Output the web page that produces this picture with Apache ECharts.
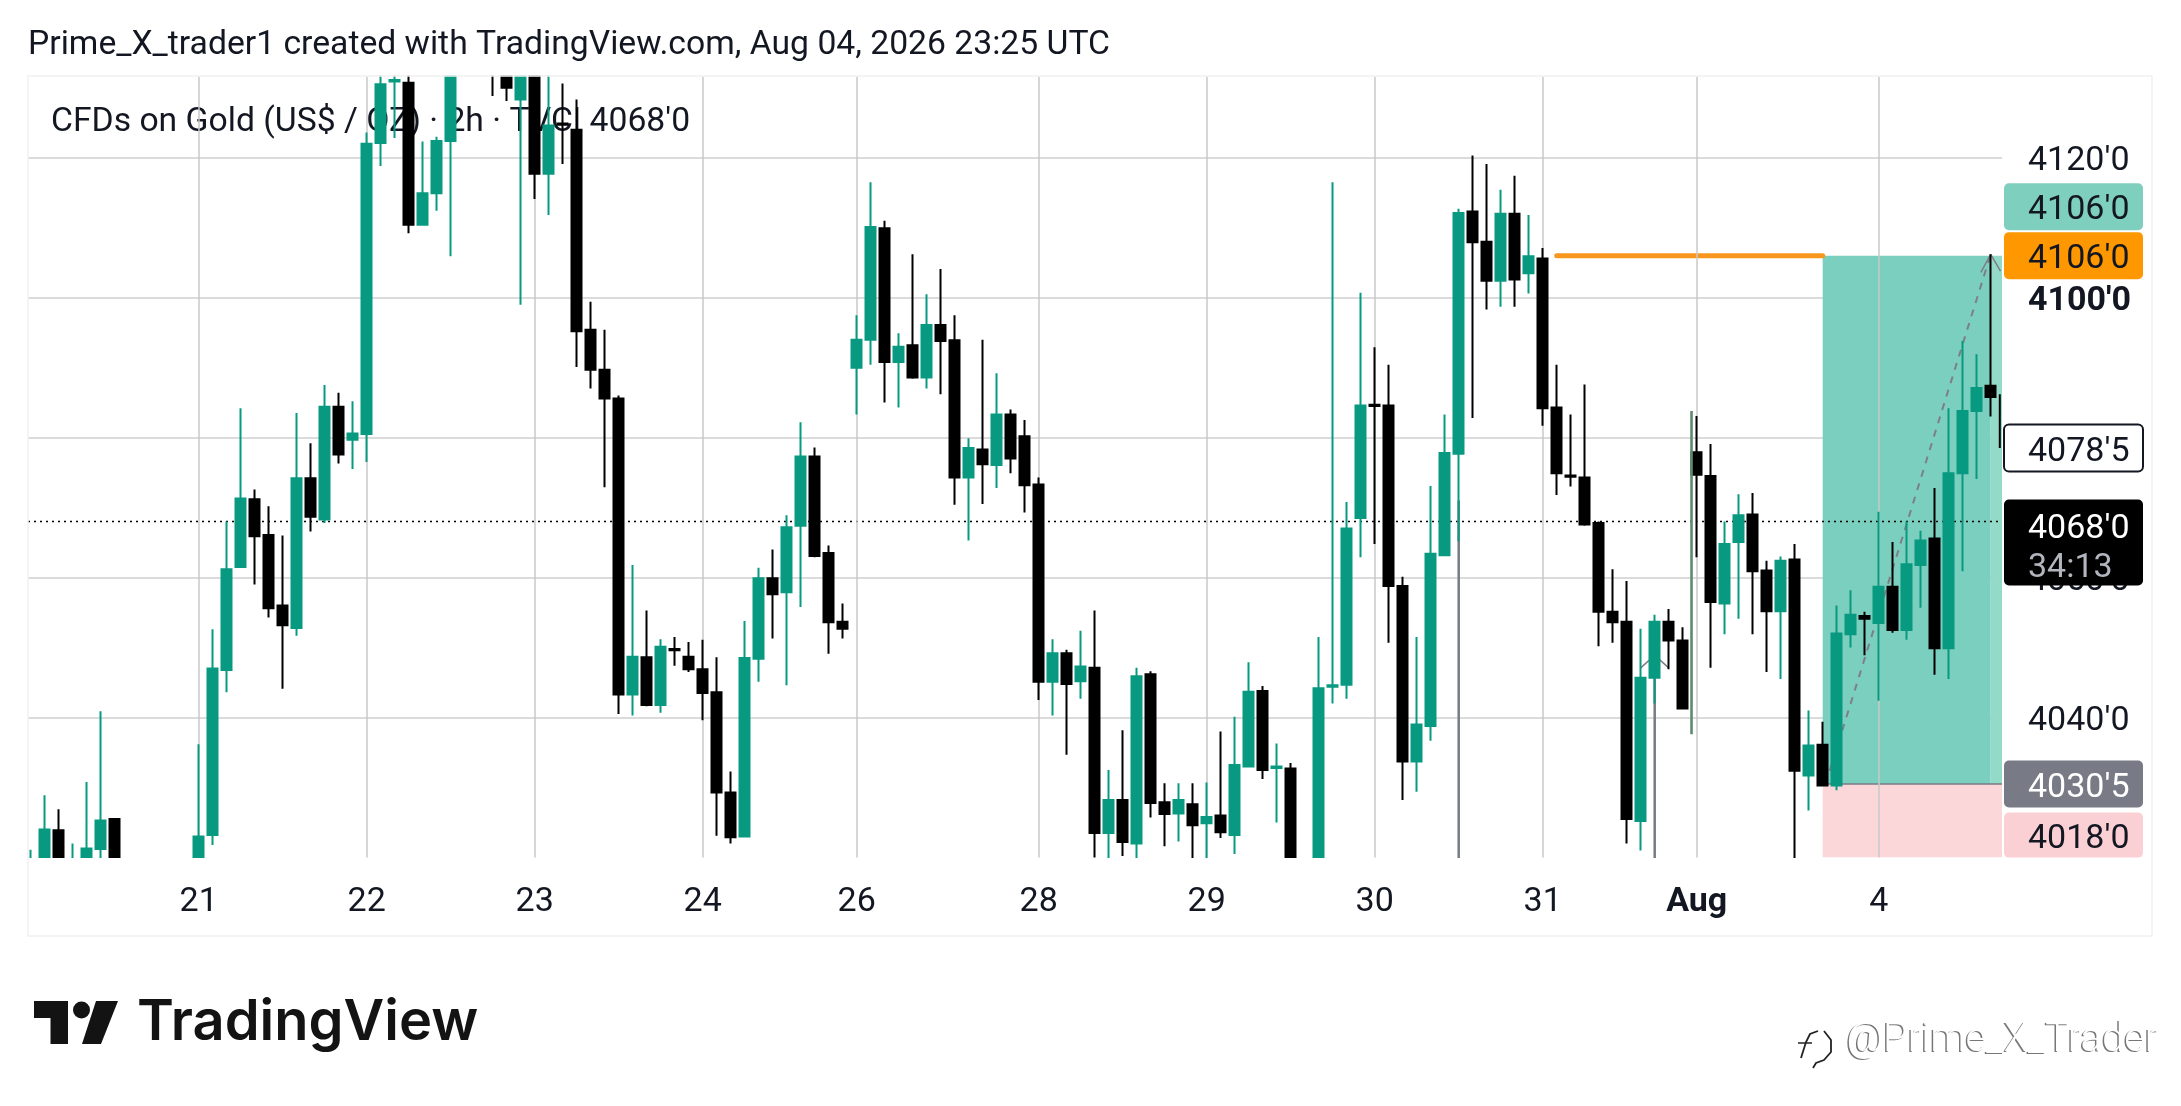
<!DOCTYPE html>
<html><head><meta charset="utf-8"><style>html,body{margin:0;padding:0;background:#fff}#c{width:2181px;height:1106px}</style>
<script src="https://cdn.jsdelivr.net/npm/echarts@6/dist/echarts.min.js"></script></head><body><div id="c"></div>
<script>
const headerText = "Prime_X_trader1 created with TradingView.com, Aug 04, 2026 23:25 UTC";
const legendText = "CFDs on Gold (US$ / OZ) · 2h · TVC| 4068'0";
const dayIndex = [12,24,36,48,59,72,84,96,108,119,132];
const dayLabels = ['21','22','23','24','26','28','29','30','31','Aug','4'];
const opens = [4015,4015,4023.9,4012,4015,4021.2,4025.5,4016,4012,4015,4011,4014,4014,4023.2,4046.8,4061.5,4071.2,4066.1,4056,4052.8,4074.2,4068.3,4084.4,4079.7,4080.5,4122.1,4130.9,4130.7,4110.4,4114.9,4122.4,4142,4137,4139,4136,4128.3,4136,4117.7,4124.9,4124,4095.4,4089.7,4085.6,4043.3,4048.6,4041.8,4049.8,4048.7,4046.9,4043.6,4029.3,4023,4048.4,4059.9,4057.9,4067.4,4077.3,4063.5,4053.7,4090,4094,4109.9,4090.8,4093.2,4088.6,4096.1,4093.9,4074.3,4078.3,4076.1,4083.3,4080.2,4073.3,4045.1,4049.2,4045.2,4047.1,4023.5,4028.2,4022,4046.2,4027.9,4026.3,4027.6,4024.9,4026,4023.2,4033,4043.8,4032.8,4032.7,4016,4012,4044.4,4044.7,4068.5,4084.7,4084.6,4058.8,4033.7,4038.8,4063.2,4077.7,4112.3,4108,4102.4,4112,4103.5,4105.6,4084.3,4074.6,4074.3,4067.8,4055.1,4053.7,4025.2,4045.7,4053.7,4051,4077.9,4074.5,4056.3,4065.1,4069,4061,4055.2,4062.6,4031.7,4036.1,4030.3,4051.9,4054.5,4053.5,4058.7,4052.5,4061.8,4065.6,4049.9,4074.9,4083.8,4087.4];
const closes = [4018,4024,4015,4017,4021.3,4025.3,4016,4012,4015,4011,4014,4010,4023,4047,4061.2,4071.3,4065.9,4055.6,4053.2,4074.2,4068.7,4084.4,4077.6,4080.6,4122,4130.5,4131.1,4110.4,4114.9,4122.4,4136,4137,4141,4135,4130,4135,4117.7,4124.6,4124.7,4095.2,4089.7,4085.6,4043.3,4048.7,4041.8,4050.1,4049.6,4046.9,4043.5,4029.3,4022.9,4048.5,4059.9,4057.6,4067.2,4077.3,4063.1,4053.6,4052.7,4094,4110.1,4090.8,4093,4088.6,4096.1,4093.8,4074.3,4078.5,4076.2,4083.3,4077,4073.2,4045.1,4049.2,4044.8,4047.3,4023.5,4028.2,4022.2,4045.9,4027.8,4026.2,4028.2,4024.6,4025.8,4023.6,4033.2,4043.7,4032.5,4033,4016,4012,4044.2,4044.6,4067,4084.6,4084.5,4058.8,4033.7,4039,4063.4,4077.8,4112.1,4107.9,4102.4,4112,4102.6,4105.9,4084.2,4074.9,4074.4,4067.6,4055.1,4053.6,4025.5,4045.7,4053.7,4051,4041.3,4074.7,4056.5,4064.8,4068.9,4060.9,4055.2,4062.4,4032.4,4036,4030.3,4052,4054.7,4054.1,4058.7,4052.5,4061.9,4065.3,4049.9,4074.9,4083.8,4087.1,4085.8];
const lows = [4012,4013,4013,4010,4013,4017,4014,4010,4010,4009,4009,4008,4012,4021.8,4043.6,4061.4,4059,4054.3,4044.1,4051.7,4066.6,4067.8,4076.3,4075.5,4076.5,4118.8,4122.8,4109.2,4110.3,4112.4,4105.9,4135,4135,4128.8,4128.1,4099,4114.1,4111.8,4119.1,4090.1,4087,4072.9,4040.5,4040.3,4041.6,4040.7,4047.4,4046.5,4039.6,4023.1,4022,4022.9,4045.1,4051.3,4044.6,4055.8,4062.9,4049.1,4051.3,4083.3,4090.4,4085,4084.3,4088.4,4087,4086.2,4070.4,4065.3,4070.5,4072.8,4074.9,4069.3,4042.5,4040.3,4034.7,4042.7,4020,4019,4020.2,4019,4025.7,4021.6,4022.3,4019,4019,4022.8,4020.5,4032.9,4031.2,4025,4014,4010,4010,4042,4042.7,4062.9,4064.8,4050.7,4028.2,4029.4,4036.7,4063.1,4065.2,4082.8,4098.3,4098.7,4098.7,4100.6,4081.7,4071.8,4073,4067.4,4050.2,4050.7,4022,4021,4042,4046.9,4041.2,4062.9,4047.1,4051.9,4054.1,4051.9,4046.5,4045.5,4019,4026.7,4030.2,4029.6,4050,4048.9,4042.4,4052.1,4051.1,4055.7,4046.1,4045.5,4060.9,4074.1,4083];
const highs = [4021.1,4028.9,4026.9,4022,4030.8,4040.9,4025.6,4018,4018,4017,4017,4017,4036.2,4052.6,4068,4084.2,4072.6,4070.2,4066,4083.5,4079.2,4087.5,4086.4,4085.2,4123.6,4136,4136,4136,4122.3,4123,4138,4144,4143,4141,4138,4138,4138,4136,4130.6,4128.3,4099.4,4095.4,4086,4061.8,4055.3,4051.2,4051.5,4050.8,4051.1,4048.6,4032.3,4053.8,4061.4,4064,4068.9,4082.2,4078.6,4064.6,4056.3,4097.5,4116.5,4111,4094.9,4106.2,4100.5,4104.1,4097.5,4079.9,4094,4089.2,4084,4082.5,4074.3,4051.2,4049.7,4052.4,4055.3,4032.5,4038.2,4047.1,4046.6,4030.6,4030.6,4030.6,4030.7,4038,4040.1,4047.9,4044.5,4036.3,4033.5,4018,4051.5,4116.5,4070.8,4100.7,4092.9,4090.4,4060.1,4051.5,4073.1,4083.3,4112.7,4120.3,4119.1,4115.4,4117.4,4111.8,4107.1,4090.4,4083.3,4087.6,4068,4061.2,4059.5,4052.7,4054.7,4055.5,4052.9,4083.1,4079.1,4068,4071.9,4072.1,4062.4,4063,4064.8,4041,4039.4,4056,4058.2,4055.1,4069.4,4065.1,4068,4066.7,4072.8,4084.2,4093.8,4091.9,4106.2];
const lastBar = {slot:140.65, high:4086.2, low:4078.5};
const currentPrice = 4068, entryPrice = 4030.5, targetPrice = 4106, stopPrice = 4018;
const zoneStart = 128, zoneShade = 140;
const orangeLine = [[109,4106],[128,4106]];
const plannedPath = [[128.5,4032.4],[140,4106.2]];
const pathHead = [[139.3,4103.6],[140,4106.2],[140.7,4103.8]];
const grayArrowA = [[102,4019],[102,4071]];
const grayArrowB = [[116,4019],[116,4048.9]];
const grayArrowBHead = [[115,4047.1],[116,4048.9],[117,4047.1]];
const greenArrow = [[118.63,4083.8],[118.63,4037.6]];
const tagAnchors = [4113,4106,4078.5,4065,4030.5,4023.2];
const tagTexts = [["4106'0"],["4106'0"],["4078'5"],["4068'0","34:13"],["4030'5"],["4018'0"]];

const GREEN='#089981', FONT='Roboto';
const xMin=-0.193, xMax=140.807;
const chart=echarts.init(document.getElementById('c'),null,{renderer:'canvas'});
const candleData=opens.map((o,i)=>[i,o,closes[i],lows[i],highs[i]]);
function line(points,color,width,type,z,cap){return {type:'line',data:points,symbol:'none',silent:true,z:z,clip:true,animation:false,
  lineStyle:{color:color,width:width,type:type||'solid',cap:cap||'butt'}};}
function zone(x0,x1,y0,y1,fill,z){return {type:'custom',z:z,silent:true,animation:false,clip:true,data:[[x0,y0,x1,y1]],encode:{x:[0,2],y:[1,3]},
  renderItem(p,api){const a=api.coord([api.value(0),api.value(1)]),b=api.coord([api.value(2),api.value(3)]);
    const top=Math.min(a[1],b[1]),bot=Math.max(a[1],b[1]);
    return {type:'rect',shape:echarts.graphic.clipRectByRect({x:a[0],y:top,width:b[0]-a[0],height:bot-top},{x:p.coordSys.x,y:p.coordSys.y,width:p.coordSys.width,height:p.coordSys.height}),style:{fill:fill}};}};}
const tagStyles=[{fill:'#7fcfbe',ink:'#131722'},{fill:'#ff9800',ink:'#131722'},{fill:'#fff',ink:'#131722',stroke:'#131722'},{fill:'#000',ink:'#fff',h:86,ink2:'#b2b5be'},{fill:'#787b86',ink:'#fff'},{fill:'#fbd0d4',ink:'#131722',h:45}];
const tagsSeries={type:'custom',z:20,silent:true,animation:false,clip:false,data:tagAnchors.map((v,i)=>[xMax,v,i]),encode:{x:0,y:1},
  renderItem(p,api){const i=api.value(2),s=tagStyles[i],c=api.coord([api.value(0),api.value(1)]),h=s.h||47,x=c[0]+2,w=139;
    const kids=[{type:'rect',shape:{x:x,y:c[1]-h/2,width:w,height:h,r:5},style:{fill:s.fill,stroke:s.stroke||null,lineWidth:s.stroke?2:0}}];
    const t=tagTexts[i];
    kids.push({type:'text',style:{text:t[0],x:2028,y:t.length>1?c[1]-13:c[1]+4,fill:s.ink,font:'34px '+FONT,verticalAlign:'middle'}});
    if(t[1])kids.push({type:'text',style:{text:t[1],x:2028,y:c[1]+26,fill:s.ink2,font:'34px '+FONT,verticalAlign:'middle'}});
    return {type:'group',children:kids};}};
chart.setOption({animation:false,backgroundColor:'#fff',
 title:[{text:headerText,left:23,top:24,z:10,textStyle:{fontFamily:FONT,fontSize:33.7,fontWeight:400,color:'#131722'}},
        {text:legendText,left:46,top:101,z:1,textStyle:{fontFamily:FONT,fontSize:33.7,fontWeight:400,color:'#131722'}}],
 grid:{left:28,top:76.5,width:1974,height:781,containLabel:false},
 xAxis:{type:'value',z:10,min:xMin,max:xMax,axisLine:{show:false},splitLine:{show:false},axisTick:{show:false},
   axisLabel:{show:true,customValues:dayIndex,margin:28,hideOverlap:false,fontFamily:FONT,fontSize:34,color:'#131722',
     formatter:v=>{const l=dayLabels[dayIndex.indexOf(v)];return l==='Aug'?'{b|Aug}':(l||'');},rich:{b:{fontWeight:700,fontFamily:FONT,fontSize:34,color:'#131722'}}}},
 yAxis:{type:'value',position:'right',min:4020,max:4131.6,interval:20,axisLine:{show:false},axisTick:{show:false},
   splitLine:{show:true,showMinLine:false,showMaxLine:false,lineStyle:{color:'#cfcfcf',width:1.5}},
   axisLabel:{margin:26,align:'left',padding:[7,0,0,0],showMinLabel:false,showMaxLabel:false,fontFamily:FONT,fontSize:34,color:'#131722',
     formatter:v=>v===4100?"{b|4100'0}":v+"'0",rich:{b:{fontWeight:700,fontFamily:FONT,fontSize:34,color:'#131722'}}}},
 series:[
  {type:'line',data:[],z:1,silent:true,animation:false,markLine:{silent:true,symbol:'none',animation:false,label:{show:false},lineStyle:{color:'#c8c8c8',width:1.5,type:'solid'},data:dayIndex.map(v=>({xAxis:v}))}},
  zone(zoneStart,zoneShade,entryPrice,targetPrice,'#7bcfbe',2),
  zone(zoneShade,xMax,entryPrice,targetPrice,'#94dac9',2),
  zone(zoneStart,xMax,stopPrice,entryPrice,'rgba(242,54,69,0.2)',2),
  line([[zoneStart,entryPrice],[xMax,entryPrice]],'#787b86',1.5,'solid',3),
  line([[xMin,currentPrice],[xMax,currentPrice]],'#000',1.5,[2,4],3),
  line(plannedPath,'#7d7f88',2,[7,7],3),
  line(pathHead,'#7d7f88',1.5,'solid',3),
  line(grayArrowA,'#787b86',2.5,'solid',3),
  line(grayArrowB,'#787b86',2.5,'solid',3),
  line(grayArrowBHead,'#787b86',1.5,'solid',3),
  line(orangeLine,'#f7971d',5,'solid',3,'round'),
  {type:'candlestick',z:5,silent:true,animation:false,clip:true,barWidth:10,data:candleData,
    itemStyle:{color:GREEN,color0:'#000',borderColor:GREEN,borderColor0:'#000',borderWidth:2}},
  line([[lastBar.slot,lastBar.high],[lastBar.slot,lastBar.low]],'#000',2,'solid',5),
  line(greenArrow,'#5f8a6e',2.6,'solid',6),
  tagsSeries
 ],
 graphic:[
  {type:'rect',z:8,silent:true,shape:{x:16,y:-30,width:1986,height:105.5},style:{fill:'#fff'}},
  {type:'rect',z:8,silent:true,shape:{x:16,y:858,width:1986,height:77},style:{fill:'#fff'}},
  {type:'rect',z:9,silent:true,shape:{x:28,y:76,width:2124,height:860},style:{fill:'none',stroke:'#f1f1f1',lineWidth:1.5}},
  {type:'polygon',silent:true,shape:{points:[[34,1001],[68,1001],[68,1044],[50.5,1044],[50.5,1018],[34,1018]]},style:{fill:'#131313'}},
  {type:'circle',silent:true,shape:{cx:81.5,cy:1010,r:8.5},style:{fill:'#131313'}},
  {type:'polygon',silent:true,shape:{points:[[96,1001],[118,1001],[101,1044],[82,1044]]},style:{fill:'#131313'}},
  {type:'text',silent:true,style:{text:'TradingView',x:137,y:1023,font:'600 56px Inter',fill:'#131313',verticalAlign:'middle'}},
  {type:'text',silent:true,style:{text:'@Prime_X_Trader',x:1845,y:1042,font:'300 40px Roboto',fill:'#777',verticalAlign:'middle'}},
  {type:'text',silent:true,style:{text:'@Prime_X_Trader',x:1846.5,y:1041,font:'300 40px Roboto',fill:'#fff',verticalAlign:'middle'}},
  {type:'polyline',silent:true,shape:{points:[[1818,1031],[1810,1034],[1806,1042],[1801,1058]]},style:{fill:'none',stroke:'#222',lineWidth:1.8}},
  {type:'polyline',silent:true,shape:{points:[[1798,1043],[1812,1043]]},style:{fill:'none',stroke:'#222',lineWidth:1.5}},
  {type:'polyline',silent:true,shape:{points:[[1824,1031],[1831,1040],[1831,1052],[1824,1060],[1816,1063],[1813,1068]]},style:{fill:'none',stroke:'#222',lineWidth:1.8}}
 ]
});
</script></body></html>
